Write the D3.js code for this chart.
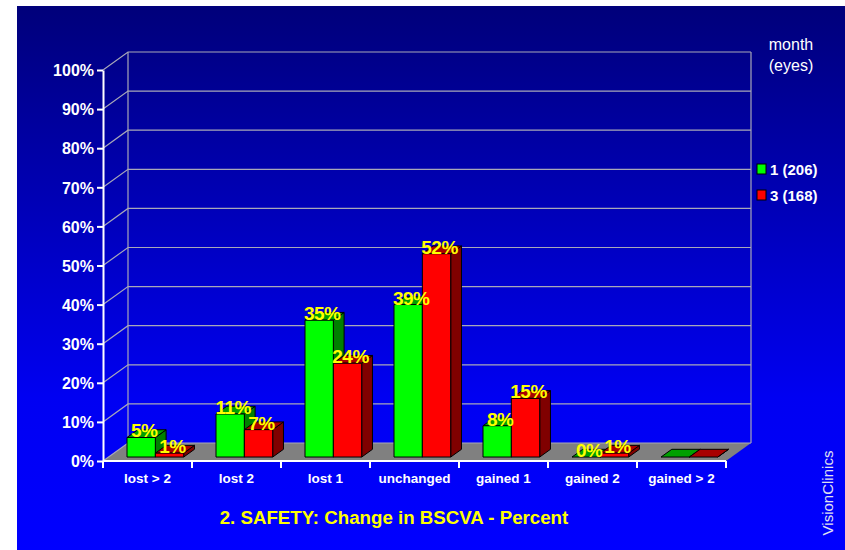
<!DOCTYPE html>
<html><head><meta charset="utf-8">
<script src="https://cdn.jsdelivr.net/npm/d3@7"></script>
<style>body{margin:0;background:#fff}svg{display:block}</style>
</head><body><svg id="c" width="845" height="550"></svg>
<script>
const categories = ["lost > 2","lost 2","lost 1","unchanged","gained 1","gained 2","gained > 2"];
const seriesNames = ["1 (206)","3 (168)"];
const month1 = [5, 11, 35, 39, 8, 0, null];
const month3 = [1, 7, 24, 52, 15, 1, null];
const yTicks = [0,10,20,30,40,50,60,70,80,90,100];
const legendTitle = ["month","(eyes)"];
const chartTitle = "2. SAFETY: Change in BSCVA - Percent";
const watermark = "VisionClinics";

const series = [month1, month3];
const frontCol = ["#00FF00","#FF0000"];
const topCol = ["#00A000","#A80000"];
const sideCol = ["#008000","#800000"];

const svg = d3.select("#c");
const defs = svg.append("defs");
const grad = defs.append("linearGradient").attr("id","bg").attr("x1",0).attr("y1",0).attr("x2",0).attr("y2",1);
grad.append("stop").attr("offset","0%").attr("stop-color","#00007A");
grad.append("stop").attr("offset","72%").attr("stop-color","#0000F2");
grad.append("stop").attr("offset","100%").attr("stop-color","#0000FF");
svg.append("rect").attr("x",17).attr("y",6).attr("width",845-17).attr("height",550-6).attr("fill","url(#bg)");

const X0 = 103, X1 = 726, Y0 = 461, YT = 70, DX = 25, DY = 18;
const x = d3.scaleBand().domain(categories).range([X0, X1]);
const y = d3.scaleLinear().domain([0, 100]).range([Y0, YT]);
const bw = x.bandwidth();
const xs = d3.scaleBand().domain([0, 1]).range([0.208 * bw, 0.845 * bw]);
const P = (xf, v, z) => [xf + z * DX, y(v) - z * DY];
const poly = pts => pts.map(p => p.join(",")).join(" ");

// floor
svg.append("polygon").attr("points", poly([P(X0,0,0),P(X1,0,0),P(X1,0,1),P(X0,0,1)])).attr("fill","#808080");

// grid
const grid = svg.append("g").attr("stroke","#A8A8B8").attr("stroke-width",1.2).attr("fill","none");
yTicks.forEach(v => {
  const a = P(X0,v,0), b = P(X0,v,1), c = P(X1,v,1);
  grid.append("polyline").attr("points", poly([a,b,c]));
});
[X0, X1].forEach(xx => {
  const a = P(xx,0,1), b = P(xx,100,1);
  grid.append("line").attr("x1",a[0]).attr("y1",a[1]).attr("x2",b[0]).attr("y2",b[1]);
});

// bars
const z0 = 0.22, z1 = 0.65;
const barsG = svg.append("g").attr("stroke","#000").attr("stroke-width",1).attr("stroke-linejoin","round");
const labels = [];
categories.forEach((cat, i) => {
  series.forEach((vals, s) => {
    const raw = vals[i];
    const v = raw == null ? 0 : raw;
    const xl = x(cat) + xs(s), xr = xl + xs.bandwidth();
    barsG.append("polygon").attr("points", poly([P(xr,0,z0),P(xr,0,z1),P(xr,v,z1),P(xr,v,z0)])).attr("fill", sideCol[s]);
    barsG.append("polygon").attr("points", poly([P(xl,v,z0),P(xr,v,z0),P(xr,v,z1),P(xl,v,z1)])).attr("fill", topCol[s]);
    if (v > 0) barsG.append("polygon").attr("points", poly([P(xl,0,z0),P(xr,0,z0),P(xr,v,z0),P(xl,v,z0)])).attr("fill", frontCol[s]);
    if (raw != null) {
      const p = P((xl + xr) / 2, v, z0);
      labels.push({x: p[0] + 3, y: p[1], t: raw + "%"});
    }
  });
});
svg.append("g").selectAll("text").data(labels).join("text")
  .attr("x", d => d.x).attr("y", d => d.y)
  .attr("text-anchor","middle")
  .attr("font-family","Liberation Sans, Arial, sans-serif").attr("font-weight","bold").attr("font-size",19)
  .attr("letter-spacing",-0.5)
  .attr("fill","#FFFF00").text(d => d.t);

// y axis
const yAxis = svg.append("g").attr("transform",`translate(${X0},0)`)
  .call(d3.axisLeft(y).tickValues(yTicks).tickFormat(d => d + "%").tickSize(6).tickSizeOuter(0).tickPadding(3));
yAxis.select(".domain").attr("stroke","#fff").attr("stroke-width",2);
yAxis.selectAll(".tick line").attr("stroke","#fff").attr("stroke-width",2);
yAxis.selectAll(".tick text").attr("fill","#fff").attr("font-family","Liberation Sans, Arial, sans-serif")
  .attr("font-weight","bold").attr("font-size",16).attr("dy","0.36em");

// x axis
const xa = svg.append("g").attr("stroke","#fff").attr("stroke-width",2);
xa.append("line").attr("x1",X0).attr("x2",X1).attr("y1",Y0).attr("y2",Y0);
categories.map(c => x(c)).concat([X1]).forEach(xx => {
  xa.append("line").attr("x1",xx).attr("x2",xx).attr("y1",Y0).attr("y2",Y0 + 7);
});
svg.append("g").selectAll("text").data(categories).join("text")
  .attr("x", d => x(d) + bw / 2).attr("y", 483)
  .attr("text-anchor","middle").attr("fill","#fff")
  .attr("font-family","Liberation Sans, Arial, sans-serif").attr("font-weight","bold").attr("font-size",13.5)
  .text(d => d);

// title
svg.append("text").attr("x",394).attr("y",524).attr("text-anchor","middle")
  .attr("font-family","Liberation Sans, Arial, sans-serif").attr("font-weight","bold").attr("font-size",18.7)
  .attr("fill","#FFFF00").text(chartTitle);

// legend
svg.append("g").selectAll("text").data(legendTitle).join("text")
  .attr("x",791).attr("y",(d,i) => 50 + i * 21).attr("text-anchor","middle")
  .attr("font-family","Liberation Sans, Arial, sans-serif").attr("font-size",16).attr("fill","#fff").text(d => d);
const lg = svg.append("g").selectAll("g").data(seriesNames).join("g")
  .attr("transform",(d,i) => `translate(757,${164 + i * 26})`);
lg.append("rect").attr("width",9).attr("height",10).attr("fill",(d,i) => frontCol[i]).attr("stroke","#000").attr("stroke-width",1);
lg.append("text").attr("x",13).attr("y",10.5)
  .attr("font-family","Liberation Sans, Arial, sans-serif").attr("font-weight","bold").attr("font-size",15)
  .attr("fill","#fff").text(d => d);

// watermark
svg.append("text").attr("transform","translate(833,493) rotate(-90)").attr("text-anchor","middle")
  .attr("font-family","Liberation Sans, Arial, sans-serif").attr("font-size",15).attr("fill","#E0E0F0").text(watermark);
</script></body></html>
